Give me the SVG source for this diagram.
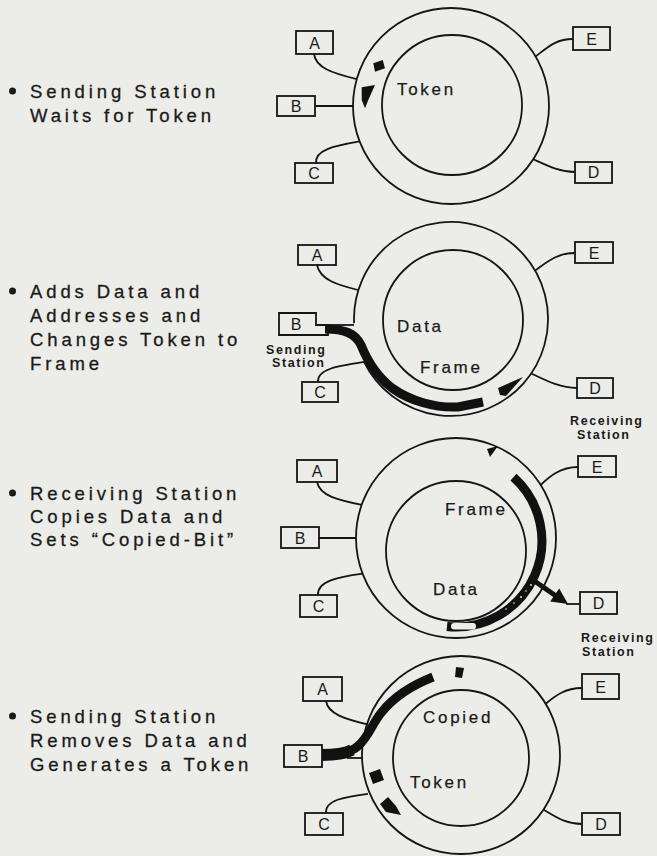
<svg xmlns="http://www.w3.org/2000/svg" width="657" height="856" viewBox="0 0 657 856">
<style>
.ink{fill:none;stroke:#151515;stroke-width:1.8}
.box{fill:none;stroke:#151515;stroke-width:1.8}
.blk{fill:#111}
.band{fill:none;stroke:#111;stroke-linejoin:round}
.hole{fill:#ecece8}
.cap{font-family:"Liberation Sans",Arial,sans-serif;font-size:18.5px;letter-spacing:3.9px;fill:#1a1a1a;stroke:#1a1a1a;stroke-width:0.3}
.lbl{font-family:"Liberation Sans",Arial,sans-serif;font-size:17px;letter-spacing:2.7px;fill:#1a1a1a;stroke:#1a1a1a;stroke-width:0.25}
.key{font-family:"Liberation Sans",Arial,sans-serif;font-size:16px;fill:#1a1a1a;text-anchor:middle}
.tag{font-family:"Liberation Sans",Arial,sans-serif;font-size:12.5px;font-weight:bold;letter-spacing:1.6px;fill:#1a1a1a}
</style>
<rect width="657" height="856" fill="#ecece8"/>

<!-- step captions -->
<g id="captions">
  <circle cx="12.5" cy="91" r="3.5" fill="#1a1a1a"/>
  <text class="cap" x="30" y="98">Sending Station</text>
  <text class="cap" x="30" y="122">Waits for Token</text>
  <circle cx="12.5" cy="291" r="3.5" fill="#1a1a1a"/>
  <text class="cap" x="30" y="298">Adds Data and</text>
  <text class="cap" x="30" y="322">Addresses and</text>
  <text class="cap" x="30" y="346">Changes Token to</text>
  <text class="cap" x="30" y="370">Frame</text>
  <circle cx="12.5" cy="493" r="3.5" fill="#1a1a1a"/>
  <text class="cap" x="30" y="500">Receiving Station</text>
  <text class="cap" x="30" y="523">Copies Data and</text>
  <text class="cap" x="30" y="546">Sets “Copied-Bit”</text>
  <circle cx="12.5" cy="716" r="3.5" fill="#1a1a1a"/>
  <text class="cap" x="30" y="723">Sending Station</text>
  <text class="cap" x="30" y="747">Removes Data and</text>
  <text class="cap" x="30" y="771">Generates a Token</text>
</g>

<!-- ring 1 -->
<g id="p1-ring">
  <circle class="ink" cx="451" cy="106" r="98"/>
  <circle class="ink" cx="452" cy="105" r="70"/>
  <polygon class="blk" points="373.3,63.3 382.7,60 385,68.3 375,71.7"/>
  <polygon class="blk" points="361.7,87.3 375,85 368.3,100 365,108.3 361.7,100"/>
  <text class="lbl" x="397" y="95">Token</text>
</g>
<g id="p1-A"><rect class="box" x="296" y="31" width="37" height="23"/><text class="key" x="314.5" y="48.5">A</text></g>
<g id="p1-B"><rect class="box" x="277" y="96" width="38" height="20"/><text class="key" x="296" y="111.5">B</text></g>
<g id="p1-C"><rect class="box" x="295" y="163" width="38" height="20"/><text class="key" x="314" y="178.5">C</text></g>
<g id="p1-D"><rect class="box" x="575" y="162" width="37" height="21"/><text class="key" x="593.5" y="178">D</text></g>
<g id="p1-E"><rect class="box" x="573" y="27" width="37" height="23"/><text class="key" x="591.5" y="44.5">E</text></g>

<!-- ring 2 -->
<g id="p2-ring">
  <path class="ink" d="M354.1,323.1 A97,97 0 1 1 364.1,362"/>
  <circle class="ink" cx="453" cy="320" r="70"/>
  <path class="band" stroke-width="9" d="M325,329 C344,329 355,333 361,345 C367,360 375,375 392,388 C410,401 435,408 458,407 L483,402"/>
  <polygon class="blk" points="498,388 523,377 506,396 500,395"/>
  <text class="lbl" x="397" y="332">Data</text>
  <text class="lbl" x="420" y="373">Frame</text>
  <text class="tag" x="266" y="354">Sending</text>
  <text class="tag" x="272" y="367">Station</text>
  <text class="tag" x="570" y="425">Receiving</text>
  <text class="tag" x="577" y="439">Station</text>
</g>
<g id="p2-A"><rect class="box" x="298" y="245" width="38" height="20"/><text class="key" x="317" y="261">A</text></g>
<g id="p2-B"><polygon class="box" points="279,313 316,313 316,325 328,325 328,335 279,335"/><text class="key" x="296" y="330">B</text></g>
<g id="p2-C"><rect class="box" x="302" y="382" width="36" height="20"/><text class="key" x="320" y="398">C</text></g>
<g id="p2-D"><rect class="box" x="577" y="378" width="36" height="20"/><text class="key" x="595" y="394">D</text></g>
<g id="p2-E"><rect class="box" x="575" y="242" width="38" height="21"/><text class="key" x="594" y="258.5">E</text></g>

<!-- ring 3 -->
<g id="p3-ring">
  <circle class="ink" cx="456" cy="538" r="100"/>
  <circle class="ink" cx="456" cy="551" r="70"/>
  <polygon class="blk" points="487,449 498,446 490,457"/>
  <path class="band" stroke-width="9" d="M513.5,477.1 A86,86 0 0 1 447,626.5"/>
  <rect class="hole" x="451" y="623" width="25" height="6.5" rx="3.2"/>
  <g class="hole">
    <circle cx="531" cy="585" r="0.9"/><circle cx="526" cy="591" r="0.8"/>
    <circle cx="521" cy="597" r="0.9"/><circle cx="514" cy="603" r="0.8"/>
    <circle cx="506" cy="609" r="0.8"/>
  </g>
  <text class="lbl" x="445" y="515">Frame</text>
  <text class="lbl" x="433" y="595">Data</text>
  <text class="tag" x="581" y="642">Receiving</text>
  <text class="tag" x="582" y="656">Station</text>
</g>
<g id="p3-A"><rect class="box" x="297" y="460" width="40" height="22"/><text class="key" x="317" y="477">A</text></g>
<g id="p3-B"><rect class="box" x="281" y="527" width="38" height="21"/><text class="key" x="300" y="543.5">B</text></g>
<g id="p3-C"><rect class="box" x="300" y="595" width="37" height="22"/><text class="key" x="318.5" y="612">C</text></g>
<g id="p3-D"><rect class="box" x="580" y="592" width="37" height="22"/><text class="key" x="598.5" y="609">D</text></g>
<g id="p3-E"><rect class="box" x="578" y="456" width="38" height="21"/><text class="key" x="597" y="472.5">E</text></g>

<!-- ring 4 -->
<g id="p4-ring">
  <circle class="ink" cx="461" cy="755" r="99"/>
  <circle class="ink" cx="461" cy="758" r="68"/>
  <path class="band" stroke-width="12" d="M322,755 C334,755 344,754 352,750"/>
  <path class="band" stroke-width="9" d="M348,752 C352,750 355,749 358,746 C368,738 372,724 381,713 C392,699 410,686 433,677"/>
  <polygon class="blk" points="456,667 464,668 462,678 455,677"/>
  <polygon class="blk" points="369,773 380,769 384,780 373,784"/>
  <polygon class="blk" points="380,804 388,797 396,806 401,815 386,812"/>
  <text class="lbl" x="423" y="723">Copied</text>
  <text class="lbl" x="410" y="788">Token</text>
</g>
<g id="p4-A"><rect class="box" x="303" y="677" width="39" height="24"/><text class="key" x="322.5" y="695">A</text></g>
<g id="p4-B"><rect class="box" x="284" y="745" width="38" height="22"/><text class="key" x="303" y="762">B</text></g>
<g id="p4-C"><rect class="box" x="305" y="813" width="38" height="22"/><text class="key" x="324" y="830">C</text></g>
<g id="p4-D"><rect class="box" x="582" y="813" width="38" height="22"/><text class="key" x="601" y="830">D</text></g>
<g id="p4-E"><rect class="box" x="582" y="674" width="37" height="25"/><text class="key" x="600.5" y="692.5">E</text></g>

<!-- station taps onto the rings -->
<g id="connectors" class="ink">
  <path d="M314,54 C316,68 332,73 356.8,79.2"/>
  <path d="M315,106 H353"/>
  <path d="M316,163 C315,150 333,146 359.6,141.4"/>
  <path d="M573,39 C556,39 548,47 535.6,56.4"/>
  <path d="M575,172 C560,172 548,166 533.3,159.3"/>

  <path d="M317,265 C320,280 338,285 358,290"/>
  <path d="M328,325 H354"/>
  <path d="M318,382 C317,369 338,366 364,362"/>
  <path d="M575,253 C557,253 547,262 535,270.6"/>
  <path d="M577,388 C560,388 545,380 531.3,373.5"/>

  <path d="M317,482 C320,496 338,500 361.9,504.9"/>
  <path d="M319,538 H356"/>
  <path d="M318,595 C317,581 338,577 362.7,573.6"/>
  <path d="M578,467 C560,467 549,477 540.6,485"/>
  <path d="M533,580 L556,596" stroke="#111" stroke-width="5"/>
  <polygon points="559.2,588.4 568,604 550.2,601.6" fill="#111" stroke="none"/>
  <path d="M566,604 H580"/>

  <path d="M326,701 C328,714 345,719 368.3,724.6"/>
  <path d="M347,758 H362.1"/>
  <path d="M326,813 C325,800 344,797 368,793.8"/>
  <path d="M582,688 C565,688 555,696 545.4,704"/>
  <path d="M582,824 C565,824 555,816 543.7,809.8"/>
</g>
</svg>
